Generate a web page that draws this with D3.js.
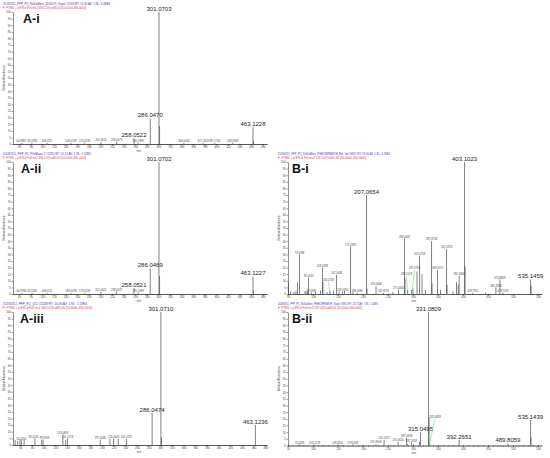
<!DOCTYPE html>
<html><head><meta charset="utf-8">
<script src="https://cdn.jsdelivr.net/npm/d3@7"></script>
<style>body{margin:0;background:#fff}svg{display:block}</style>
</head><body>
<svg id="chart" width="550" height="458"></svg>
<script>
// ---------- data ----------
const yTickValues = [0,5,10,15,20,25,30,35,40,45,50,55,60,65,70,75,80,85,90,95,100];
const aTicks = [60,80,100,120,140,160,180,200,220,240,260,280,300,320,340,360,380,400,420,440,460,480];
const bTicks = [50,100,150,200,250,300,350,400,450,500,550];

const aiMz  = [64.9867, 82.0283, 108.0211, 149.0239, 173.0239, 201.0624, 228.0473, 258.0522, 265.0399, 286.0470, 301.0703, 302.0737, 344.0466, 377.2620, 397.1754, 428.0948, 463.1228, 464.1262];
const aiInt = [0.8, 0.8, 0.7, 0.8, 0.8, 1.6, 1.9, 4.6, 1.0, 19.2, 100, 13.5, 0.7, 0.7, 0.8, 0.9, 13.1, 2.4];
const aiLabels = ["64.9867","82.0283","108.0211","149.0239","173.0239","201.0624","228.0473","258.0522","265.0399","286.0470","301.0703","","344.0466","377.2620","397.1754","428.0948","463.1228",""];
const aiBig = ["258.0522","286.0470","301.0703","463.1228"];

const aiiMz  = [64.9786, 82.0282, 108.0211, 149.0238, 173.0239, 201.0621, 228.0472, 258.0521, 265.0399, 286.0469, 301.0702, 302.0736, 463.1227, 464.1260];
const aiiInt = [0.8, 0.8, 0.7, 0.8, 0.8, 1.6, 1.9, 4.6, 1.0, 19.4, 100, 13.5, 13.2, 2.4];
const aiiLabels = ["64.9786","82.0282","108.0211","149.0238","173.0239","201.0621","228.0472","258.0521","265.0399","286.0469","301.0702","","463.1227",""];
const aiiBig = ["258.0521","286.0469","301.0702","463.1227"];

const aiiiMz  = [51.1, 55.6, 59.6, 62.0264, 66.5, 85.0241, 96.7, 99.0943, 133.0859, 137.8, 141.0718, 197.0568, 213.7, 220.0643, 228.0, 242.1023, 286.0474, 301.0710, 302.0744, 463.1236];
const aiiiInt = [3.8, 3.0, 4.3, 3.5, 3.8, 5.0, 4.0, 4.0, 8.0, 4.0, 5.0, 4.0, 4.5, 5.0, 4.5, 4.5, 24.0, 100, 5.5, 15.0];
const aiiiLabels = ["","","","62.0264","","85.0241","","99.0943","133.0859","","141.0718","197.0568","","220.0643","","242.1023","286.0474","301.0710","","463.1236"];
const aiiiBig = ["286.0474","301.0710","463.1236"];

const biMz  = [50.9, 55.0, 62.0, 66.0, 69.0, 73.0288, 84.0, 86.0, 89.0, 91.0543, 97.0296, 105.0, 115.0, 119.0493, 120.0, 128.0, 134.0758, 141.0, 147.0448, 152.0, 159.0762, 163.0, 175.0391, 180.0, 188.0496, 207.0654, 208.0690, 226.0608, 240.9229, 260.0, 271.0601, 283.0602, 284.0636, 289.1059, 297.0756, 300.0, 308.0, 313.0758, 318.0, 325.0, 337.0758, 338.0790, 349.0757, 355.0, 367.0913, 368.0946, 380.0, 387.0, 390.5, 392.2846, 403.1023, 404.1056, 419.7951, 445.0, 465.7828, 473.8849, 479.7025, 535.1459, 536.1492];
const biInt = [9, 2, 1.5, 2.5, 9, 30, 2, 2.5, 2, 12.5, 1.2, 1.5, 2.5, 20, 9, 1.5, 2, 2.5, 14.5, 2, 2, 2.5, 36, 1.5, 1, 75, 4, 6, 0.8, 1.5, 3.5, 42, 12, 3, 3, 4, 17, 29, 15, 3, 40, 8, 18, 3, 34, 7, 2, 9, 7, 14, 100, 21, 1, 1, 5, 11, 1, 11, 6];
const biLabels = ["","","","","","73.0288","","","","91.0543","97.0296","","","119.0493","","","134.0758","","147.0448","","159.0762","","175.0391","","188.0496","207.0654","","226.0608","240.9229","","271.0601","283.0602","","289.1059","297.0756","","","313.0758","","","337.0758","","349.0757","","367.0913","","","","","392.2846","403.1023","","419.7951","","465.7828","473.8849","479.7025","535.1459",""];
const biBig = ["207.0654","403.1023","535.1459"];

const biiMz  = [73.0284, 76.0, 85.0, 103.1179, 120.0, 149.0311, 160.0, 179.0248, 200.0, 225.9608, 242.0972, 255.0, 270.0625, 287.0648, 289.0, 297.0559, 301.0, 313.04, 315.0495, 331.0809, 332.0829, 333.5, 392.2651, 489.8059, 535.1439, 536.1472];
const biiInt = [0.8, 0.4, 0.5, 0.6, 0.4, 0.7, 0.4, 0.8, 0.4, 1.0, 4.0, 0.5, 2.8, 6.0, 1.2, 2.2, 1.0, 3.0, 10.0, 100, 21, 1.0, 4.0, 1.5, 19, 6];
const biiLabels = ["73.0284","","","103.1179","","149.0311","","179.0248","","225.9608","242.0972","","270.0625","287.0648","","297.0559","","","315.0495","331.0809","332.0829","","392.2651","489.8059","535.1439",""];
const biiBig = ["315.0495","331.0809","392.2651","489.8059","535.1439"];

// ---------- drawing ----------
const svg = d3.select("#chart");
const FONT = "'Liberation Sans', Arial, Helvetica, sans-serif";

function drawPanel(p) {
  const g = svg.append("g");
  const x = d3.scaleLinear().domain(p.domain).range([p.left, p.right]);
  const y = d3.scaleLinear().domain([0, 100]).range([p.bottom, p.top]);

  // header lines
  g.append("text").attr("x", p.hx).attr("y", p.top - 7.4)
    .attr("font-size", 3).attr("font-family", FONT).attr("fill", "#3a3ad4")
    .attr("textLength", p.hw[0]).attr("lengthAdjust", "spacingAndGlyphs").text(p.header[0]);
  g.append("text").attr("x", p.hx).attr("y", p.top - 3.2)
    .attr("font-size", 3).attr("font-family", FONT).attr("fill", "#e03a3a")
    .attr("textLength", p.hw[1]).attr("lengthAdjust", "spacingAndGlyphs").text(p.header[1]);

  // y axis
  const ya = g.append("g").attr("transform", `translate(${p.left},0)`)
    .call(d3.axisLeft(y).tickValues(yTickValues).tickSize(1.4).tickSizeOuter(0).tickPadding(0.8));
  ya.selectAll("text").attr("font-size", 2.8).attr("font-family", FONT).attr("fill", "#444");
  ya.selectAll("line,path").attr("stroke", "#222").attr("stroke-width", 0.5);

  // x axis minor
  const xm = g.append("g").attr("transform", `translate(0,${p.bottom})`)
    .call(d3.axisBottom(x).tickValues(p.minor).tickSize(0.9).tickSizeOuter(0).tickFormat(""));
  xm.selectAll("line,path").attr("stroke", "#222").attr("stroke-width", 0.45);
  // x axis major
  const xa = g.append("g").attr("transform", `translate(0,${p.bottom})`)
    .call(d3.axisBottom(x).tickValues(p.ticks).tickSize(1.6).tickSizeOuter(0).tickPadding(0.8));
  xa.selectAll("text").attr("font-size", 2.8).attr("font-family", FONT).attr("fill", "#444");
  xa.selectAll("line,path").attr("stroke", "#222").attr("stroke-width", 0.5);

  // axis titles
  g.append("text").attr("transform", `translate(${p.left - 8},${(p.top + p.bottom) / 2}) rotate(-90)`)
    .attr("text-anchor", "middle").attr("font-size", 2.8).attr("font-family", FONT).attr("fill", "#444")
    .text("Relative Abundance");
  g.append("text").attr("x", (p.left + p.right) / 2 - 1).attr("y", p.bottom + 8)
    .attr("text-anchor", "middle").attr("font-size", 2.8).attr("font-family", FONT).attr("fill", "#444")
    .text("m/z");

  const peaks = p.mz.map((m, i) => ({ m, v: p.inten[i], l: p.labels[i] }));

  // bars
  g.append("g").selectAll("line").data(peaks).join("line")
    .attr("x1", d => x(d.m)).attr("x2", d => x(d.m))
    .attr("y1", y(0)).attr("y2", d => y(d.v))
    .attr("stroke", "#4a4a4a").attr("stroke-width", 0.7);

  // labels
  const lab = peaks.filter(d => d.l !== "");
  lab.forEach(d => {
    const big = p.big.includes(d.l);
    const lead = p.leaders && p.leaders[d.l];
    const nudge = (p.nudges && p.nudges[d.l]) || [0, 0];
    let lx = x(d.m) + nudge[0], ly = y(d.v) - (big ? 1.2 : 0.8) - nudge[1];
    if (lead) {
      lx += lead[0]; ly -= lead[1];
      g.append("line").attr("x1", lx).attr("y1", ly + 0.6)
        .attr("x2", x(d.m) + 0.3).attr("y2", y(0) - 0.5)
        .attr("stroke", "#5fd35f").attr("stroke-width", 0.5);
    }
    g.append("text").attr("x", lx).attr("y", ly)
      .attr("text-anchor", "middle").attr("font-family", FONT)
      .attr("font-size", big ? 6 : 2.7).attr("fill", big ? "#222" : "#444")
      .text(d.l);
  });

  // panel title
  g.append("text").attr("x", p.tx).attr("y", p.top + 11)
    .attr("font-family", FONT).attr("font-weight", "bold").attr("font-size", 12.5).attr("fill", "#111")
    .text(p.title);
}

const aMinor = d3.range(50, 488, 5);
const bMinor = d3.range(50, 558, 10);

drawPanel({ title: "A-i", tx: 23, left: 13, right: 267, top: 12, bottom: 144, domain: [49.4, 487.3],
  ticks: aTicks, minor: aMinor, mz: aiMz, inten: aiInt, labels: aiLabels, big: aiBig, hx: 3, hw: [107, 83],
  nudges: { "64.9867": [-0.6, 0], "82.0283": [0.4, 0] },
  header: ["20180311_PFP_P1_ShiKaMien_2010070_Sapel #2506  RT: 10.45  AV: 1  NL: 6.88E6",
           "F: FTMS + p ESI d Full ms2 463.12@cid35.00 [50.0000-490.0000]"] });

drawPanel({ title: "A-ii", tx: 21, left: 13, right: 267, top: 162, bottom: 294, domain: [49.4, 487.3],
  ticks: aTicks, minor: aMinor, mz: aiiMz, inten: aiiInt, labels: aiiLabels, big: aiiBig, hx: 3, hw: [88, 83],
  nudges: { "64.9786": [-0.6, 0], "82.0282": [0.4, 0] },
  header: ["20180311_PFP_P1_PhilMoon-2 #2285  RT: 10.12  AV: 1  NL: 7.42E5",
           "F: FTMS + p ESI d Full ms2 463.12@cid35.00 [50.0000-490.0000]"] });

drawPanel({ title: "A-iii", tx: 20, left: 13, right: 267, top: 312, bottom: 445, domain: [47.5, 483],
  ticks: aTicks, minor: aMinor.filter(v => v <= 483), mz: aiiiMz, inten: aiiiInt, labels: aiiiLabels, big: aiiiBig, hx: 3, hw: [84, 89],
  nudges: { "85.0241": [-1.3, 0], "99.0943": [1.3, 0] },
  header: ["20180311_PFP_P2_QCI #2248  RT: 10.09  AV: 1  NL: 1.19E4",
           "F: FTMS + p ESI d Full ms2 463.12@cid35.00 [50.0000-490.0000]"] });

drawPanel({ title: "B-i", tx: 292, left: 288, right: 542, top: 162, bottom: 294, domain: [50, 558],
  ticks: bTicks, minor: bMinor, mz: biMz, inten: biInt, labels: biLabels, big: biBig, hx: 278, hw: [112, 88],
  leaders: { "134.0758": [-2, 10], "289.1059": [-1, 14], "297.0756": [3, 20] },
  header: ["20180311_PFP_P2_ShiKaMien_PNHCMPMMOH_NG_Ind #6897  RT: 23.56  AV: 1  NL: 4.18E4",
           "F: FTMS + p ESI d Full ms2 535.14@cid35.00 [50.0000-560.0000]"] });

drawPanel({ title: "B-ii", tx: 292, left: 288, right: 542, top: 312, bottom: 445.5, domain: [50, 558],
  ticks: bTicks, minor: bMinor, mz: biiMz, inten: biiInt, labels: biiLabels, big: biiBig, hx: 278, hw: [100, 84],
  leaders: { "332.0829": [6, -1] },
  header: ["20180311_PFP_P2_ShiKaMien_PNHCMPMMOH_Sapel #8955  RT: 23.71  AV: 1  NL: 1.44E5",
           "F: FTMS + p ESI d Full ms2 535.14@cid35.00 [50.0000-560.0000]"] });
</script>
</body></html>
